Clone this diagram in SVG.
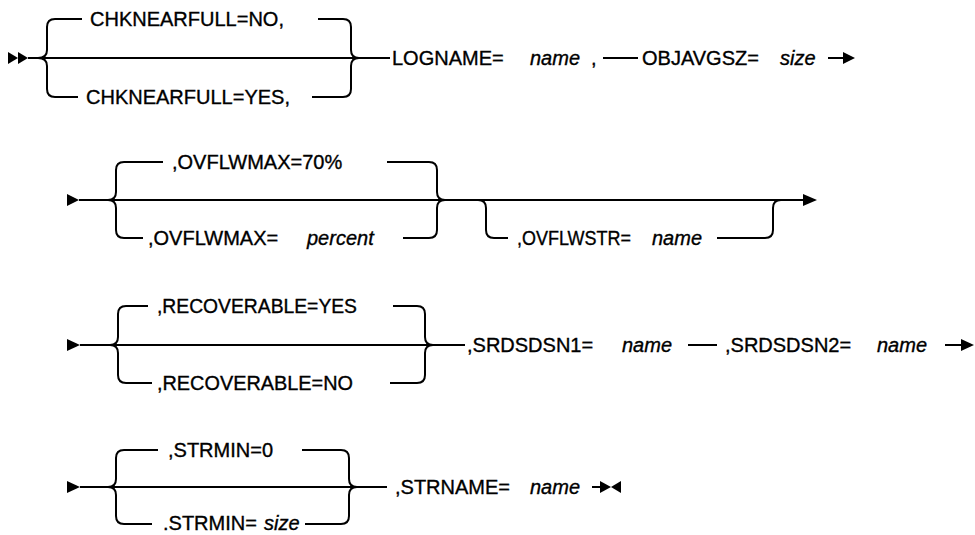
<svg xmlns="http://www.w3.org/2000/svg" width="975" height="535" viewBox="0 0 975 535">
<style>
.ln{fill:none;stroke:#000;stroke-width:2}
.ah{fill:#000;stroke:none}
.t{font-family:"Liberation Sans",Arial,sans-serif;font-size:20px;fill:#000;stroke:#000;stroke-width:0.35}
.v{font-style:italic}
</style>
<rect width="975" height="535" fill="#fff"/>
<g id="connectors">
  <!-- row 1 -->
  <polygon class="ah" points="8,52 18,58 8,64"/>
  <polygon class="ah" points="18,52 28,58 18,64"/>
  <path class="ln" d="M28 58 H390"/>
  <path class="ln" d="M38 58 Q47 58 47 50 V27 Q47 19 55 19 H82"/>
  <path class="ln" d="M38 58 Q47 58 47 66 V89 Q47 97 55 97 H78"/>
  <path class="ln" d="M318 19 H343 Q351 19 351 27 V50 Q351 58 359 58"/>
  <path class="ln" d="M312 97 H343 Q351 97 351 89 V66 Q351 58 359 58"/>
  <path class="ln" d="M603 58 H638"/>
  <path class="ln" d="M828 58 H845"/>
  <polygon class="ah" points="843,52 855,58 843,64"/>
  <!-- row 2 -->
  <polygon class="ah" points="67,194 79,200 67,206"/>
  <path class="ln" d="M79 200 H805"/>
  <polygon class="ah" points="803,194 817,200 803,206"/>
  <path class="ln" d="M108 200 Q116 200 116 192 V170 Q116 162 124 162 H163"/>
  <path class="ln" d="M108 200 Q116 200 116 208 V230 Q116 238 124 238 H143"/>
  <path class="ln" d="M387 162 H429 Q437 162 437 170 V192 Q437 200 445 200"/>
  <path class="ln" d="M403 238 H429 Q437 238 437 230 V208 Q437 200 445 200"/>
  <path class="ln" d="M478 200 Q486 200 486 208 V230 Q486 238 494 238 H508"/>
  <path class="ln" d="M717 238 H765 Q773 238 773 230 V208 Q773 200 781 200"/>
  <!-- row 3 -->
  <polygon class="ah" points="67,339 80,345 67,351"/>
  <path class="ln" d="M80 345 H465"/>
  <path class="ln" d="M110 345 Q118 345 118 337 V314 Q118 306 126 306 H148"/>
  <path class="ln" d="M110 345 Q118 345 118 353 V375 Q118 383 126 383 H152"/>
  <path class="ln" d="M393 306 H417 Q425 306 425 314 V337 Q425 345 433 345"/>
  <path class="ln" d="M390 383 H417 Q425 383 425 375 V353 Q425 345 433 345"/>
  <path class="ln" d="M688 345 H717"/>
  <path class="ln" d="M945 345 H963"/>
  <polygon class="ah" points="961,339 974,345 961,351"/>
  <!-- row 4 -->
  <polygon class="ah" points="67,481 80,487 67,493"/>
  <path class="ln" d="M80 487 H387"/>
  <path class="ln" d="M108 487 Q116 487 116 479 V458 Q116 450 124 450 H158"/>
  <path class="ln" d="M108 487 Q116 487 116 495 V516 Q116 524 124 524 H152"/>
  <path class="ln" d="M302 450 H341 Q349 450 349 458 V479 Q349 487 357 487"/>
  <path class="ln" d="M305 524 H341 Q349 524 349 516 V495 Q349 487 357 487"/>
  <path class="ln" d="M592 487 H603"/>
  <polygon class="ah" points="600,481 611,487 600,493"/>
  <polygon class="ah" points="621,481 611,487 621,493"/>
</g>
<g id="chknearfull-no"><text class="t" x="90" y="26">CHKNEARFULL=NO,</text></g>
<g id="chknearfull-yes"><text class="t" x="86" y="104">CHKNEARFULL=YES,</text></g>
<g id="logname"><text class="t" x="392" y="65">LOGNAME=</text><text class="t v" x="530" y="65">name</text><text class="t" x="591" y="65">,</text></g>
<g id="objavgsz"><text class="t" x="642" y="65">OBJAVGSZ=</text><text class="t v" x="780" y="65">size</text></g>
<g id="ovflwmax-default"><text class="t" x="172" y="169">,OVFLWMAX=70%</text></g>
<g id="ovflwmax-percent"><text class="t" x="148" y="245">,OVFLWMAX=</text><text class="t v" x="307" y="245">percent</text></g>
<g id="ovflwstr"><text class="t" x="517" y="245" textLength="114" lengthAdjust="spacingAndGlyphs">,OVFLWSTR=</text><text class="t v" x="652" y="245">name</text></g>
<g id="recoverable-yes"><text class="t" x="157" y="313" textLength="200" lengthAdjust="spacingAndGlyphs">,RECOVERABLE=YES</text></g>
<g id="recoverable-no"><text class="t" x="157" y="390" textLength="196" lengthAdjust="spacingAndGlyphs">,RECOVERABLE=NO</text></g>
<g id="srdsdsn1"><text class="t" x="467" y="352">,SRDSDSN1=</text><text class="t v" x="622" y="352">name</text></g>
<g id="srdsdsn2"><text class="t" x="725" y="352">,SRDSDSN2=</text><text class="t v" x="877" y="352">name</text></g>
<g id="strmin-default"><text class="t" x="168" y="457">,STRMIN=0</text></g>
<g id="strmin-size"><text class="t" x="163" y="530">.STRMIN=</text><text class="t v" x="264" y="530">size</text></g>
<g id="strname"><text class="t" x="395" y="494">,STRNAME=</text><text class="t v" x="530" y="494">name</text></g>
</svg>
